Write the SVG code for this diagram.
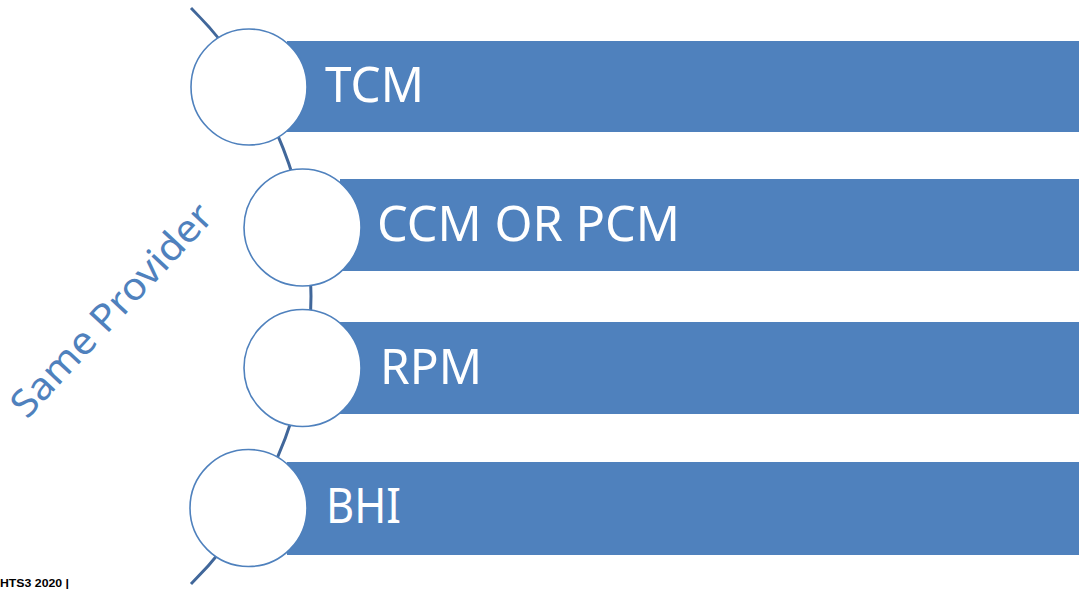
<svg xmlns="http://www.w3.org/2000/svg" width="1079" height="589" viewBox="0 0 1079 589">
  <style>
    .bar { fill: #4F81BD; }
    .circ { fill: #FFFFFF; stroke: #4F81BD; stroke-width: 1.6; }
    .lbl { font-family: "Noto Sans", "Liberation Sans", sans-serif; font-size: 50px; fill: #FFFFFF; }
    .side { font-family: "Noto Sans", "Liberation Sans", sans-serif; font-size: 38px; fill: #4F81BD; }
    .foot { font-family: "Liberation Sans", Arial, sans-serif; font-size: 10px; font-weight: bold; fill: #000000; }
  </style>
  <rect width="1079" height="589" fill="#FFFFFF"/>
  <g id="connectors">
    <path d="M191,8 A405.6,405.6 0 0 1 191,584" fill="none" stroke="#41679A" stroke-width="3"/>
  </g>
  <g id="node-tcm">
    <rect class="bar" x="287" y="41" width="792" height="91"/>
    <circle class="circ" cx="249" cy="87" r="58"/>
    <text class="lbl" x="325" y="102" textLength="99" lengthAdjust="spacingAndGlyphs">TCM</text>
  </g>
  <g id="node-ccm">
    <rect class="bar" x="340" y="179" width="739" height="92"/>
    <circle class="circ" cx="302.5" cy="227.5" r="58.5"/>
    <text class="lbl" x="377" y="241" textLength="303" lengthAdjust="spacingAndGlyphs">CCM OR PCM</text>
  </g>
  <g id="node-rpm">
    <rect class="bar" x="340" y="322" width="739" height="92"/>
    <circle class="circ" cx="302.5" cy="368" r="58.5"/>
    <text class="lbl" x="380" y="384" textLength="102" lengthAdjust="spacingAndGlyphs">RPM</text>
  </g>
  <g id="node-bhi">
    <rect class="bar" x="287" y="462" width="792" height="93"/>
    <circle class="circ" cx="248.5" cy="508" r="58.5"/>
    <text class="lbl" x="326" y="523" textLength="75" lengthAdjust="spacingAndGlyphs">BHI</text>
  </g>
  <g id="side-label">
    <text class="side" text-anchor="middle" transform="translate(121,319) rotate(-47)" textLength="276" lengthAdjust="spacingAndGlyphs">Same Provider</text>
  </g>
  <g id="footer">
    <text class="foot" x="0" y="587" textLength="69" lengthAdjust="spacingAndGlyphs">HTS3 2020 |</text>
  </g>
</svg>
